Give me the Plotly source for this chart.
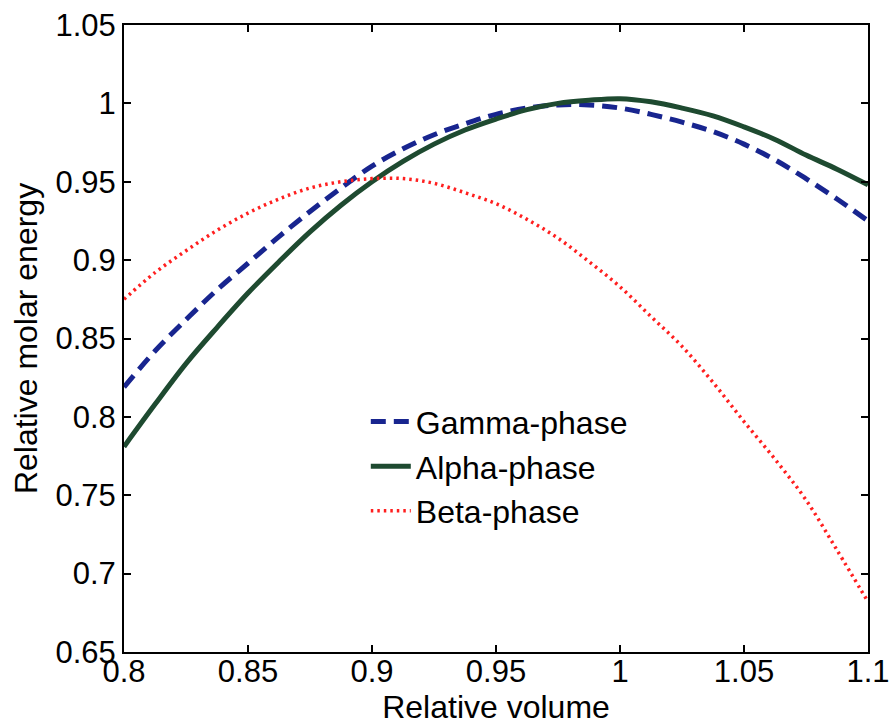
import plotly.graph_objects as go

# Relative volume (x)
volume = [0.8, 0.8125, 0.825, 0.8375, 0.85, 0.8625, 0.875, 0.8875, 0.9, 0.9125,
          0.925, 0.9375, 0.95, 0.9625, 0.975, 0.9875, 1.0, 1.0125, 1.025, 1.0375,
          1.05, 1.0625, 1.075, 1.0875, 1.1]

gamma_phase = [0.819, 0.842, 0.862, 0.881, 0.898, 0.915, 0.931, 0.946, 0.960, 0.971,
               0.980, 0.987, 0.993, 0.997, 0.999, 0.999, 0.997, 0.993, 0.988, 0.982,
               0.974, 0.964, 0.952, 0.939, 0.925]

alpha_phase = [0.781, 0.808, 0.834, 0.857, 0.879, 0.899, 0.918, 0.935, 0.950, 0.963,
               0.974, 0.983, 0.990, 0.996, 1.000, 1.002, 1.003, 1.001, 0.997, 0.992,
               0.985, 0.977, 0.967, 0.958, 0.948]

beta_phase = [0.875, 0.892, 0.906, 0.919, 0.930, 0.939, 0.946, 0.950, 0.952, 0.952,
              0.949, 0.943, 0.936, 0.926, 0.914, 0.899, 0.883, 0.864, 0.845, 0.822,
              0.797, 0.773, 0.747, 0.715, 0.682]

x_ticks = [0.8, 0.85, 0.9, 0.95, 1.0, 1.05, 1.1]
x_tick_text = ["0.8", "0.85", "0.9", "0.95", "1", "1.05", "1.1"]
y_ticks = [0.65, 0.7, 0.75, 0.8, 0.85, 0.9, 0.95, 1.0, 1.05]
y_tick_text = ["0.65", "0.7", "0.75", "0.8", "0.85", "0.9", "0.95", "1", "1.05"]

FONT = "Liberation Sans, Arial, Helvetica, sans-serif"

fig = go.Figure()
fig.add_trace(go.Scatter(x=volume, y=gamma_phase, mode="lines", name="Gamma-phase",
                         line=dict(color="#18258f", width=5, dash="15px,8px", shape="spline")))
fig.add_trace(go.Scatter(x=volume, y=alpha_phase, mode="lines", name="Alpha-phase",
                         line=dict(color="#1e4a30", width=5, shape="spline")))
fig.add_trace(go.Scatter(x=volume, y=beta_phase, mode="lines", name="Beta-phase",
                         line=dict(color="#ff1f1f", width=3.5, dash="2.5px,4px", shape="spline")))

axis_common = dict(showline=True, linecolor="black", linewidth=2, mirror="ticks",
                   ticks="inside", ticklen=7, tickwidth=1.5, tickcolor="black",
                   showgrid=False, zeroline=False, automargin=False,
                   tickfont=dict(family=FONT, size=31, color="black"))

fig.update_xaxes(range=[0.8, 1.1], tickvals=x_ticks, ticktext=x_tick_text,
                 ticklabelstandoff=-9,
                 title=dict(text="Relative volume", font=dict(family=FONT, size=32, color="black"),
                            standoff=13),
                 **axis_common)
fig.update_yaxes(range=[0.65, 1.05], tickvals=y_ticks, ticktext=y_tick_text,
                 title=dict(text="Relative molar energy", font=dict(family=FONT, size=32, color="black"),
                            standoff=8),
                 **axis_common)

fig.update_layout(
    width=891, height=725,
    margin=dict(l=124, r=23, t=25, b=73),
    paper_bgcolor="white", plot_bgcolor="white",
    showlegend=True,
    legend=dict(x=0.325, y=0.411, xanchor="left", yanchor="top",
                bgcolor="rgba(0,0,0,0)", borderwidth=0,
                font=dict(family=FONT, size=32, color="black"),
                tracegroupgap=0, itemwidth=40),
)

fig.write_html("out.html")
